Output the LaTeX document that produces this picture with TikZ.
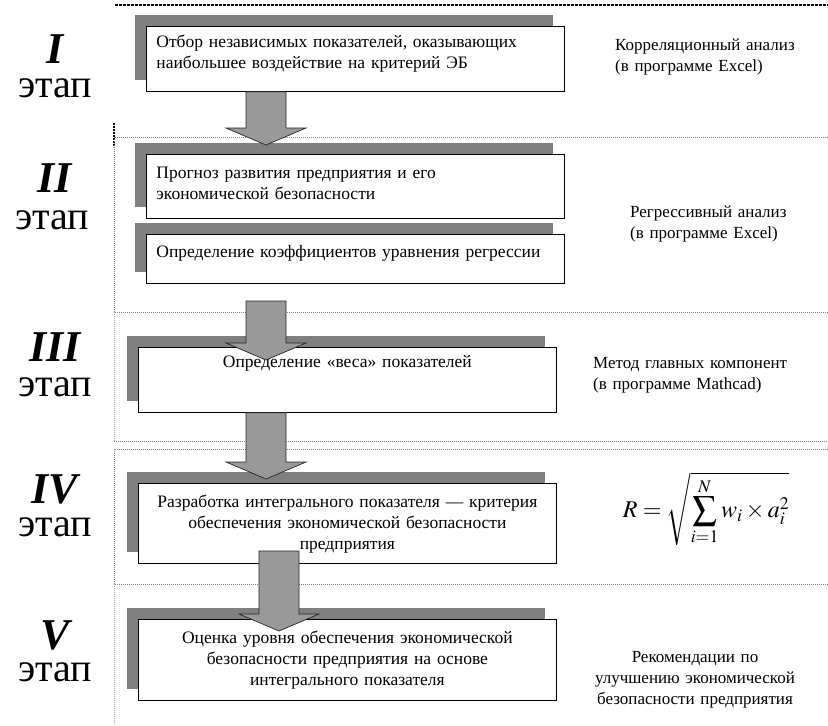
\documentclass[tikz,border=0pt]{standalone}
\usepackage{mathptmx}
\usepackage{fontspec}
\setmainfont{Liberation Serif}
\usetikzlibrary{calc,shadows}

\definecolor{shadowgray}{HTML}{808080}
\definecolor{arrowgray}{HTML}{999999}

% block arrow: shaft from #1 down to the tip #2
\newcommand{\blockarrow}[2]{%
  \filldraw[fill=arrowgray, draw=black!85, line width=0.7pt] let \p1=(#1), \p2=(#2) in
    (\x1-20pt,\y1) -- (\x1+20pt,\y1) -- (\x1+20pt,\y2+17pt) -- (\x1+40pt,\y2+17pt)
    -- (\x1,\y2) -- (\x1-40pt,\y2+17pt) -- (\x1-20pt,\y2+17pt) -- cycle;}

\tikzset{
  stagebox/.style={draw=black, fill=white, line width=0.8pt, anchor=north west,
    inner xsep=10pt, inner ysep=0pt, text width=398pt,
    font=\fontsize{17.5}{21}\selectfont,
    drop shadow={shadow xshift=-11pt, shadow yshift=11pt, opacity=1,
      fill=shadowgray, draw=none}},
  numeral/.style={inner sep=0pt, font=\fontsize{44}{44}\selectfont\bfseries\itshape},
  etap/.style={inner sep=0pt, font=\fontsize{40}{40}\selectfont},
  note/.style={anchor=north west, inner sep=0pt, align=left, text width=215pt,
    text height=14pt, font=\fontsize{17}{21}\selectfont},
  sepline/.style={gray, line width=0.6pt, dash pattern=on 1pt off 1pt},
}

\begin{document}
\begin{tikzpicture}[x=1pt, y=-1pt]
  \useasboundingbox (0,0) rectangle (828,726);

  % stage frames
  \draw[black, line width=1.2pt, dash pattern=on 3pt off 1pt] (115,5) -- (828,5);
  \draw[black, line width=1.2pt, dash pattern=on 2pt off 1pt] (114,123) -- (114,147);
  \draw[sepline] (828,137) -- (114,137) -- (114,312) -- (828,312);
  \draw[sepline, gray!60] (114,312) -- (114,441);
  \draw[sepline] (114,441) -- (828,441);
  \draw[sepline] (828,449) -- (114,449) -- (114,584) -- (828,584);
  \draw[sepline, gray!60] (114,584) -- (114,726);

  % stage numbers
  \node[numeral] (n1) at (55,49) {I};
  \node[etap] (e1) at (55,88) {этап};
  \node[numeral] (n2) at (55,178) {II};
  \node[etap] (e2) at (52,220) {этап};
  \node[numeral] (n3) at (55,347) {III};
  \node[etap] (e3) at (55,387) {этап};
  \node[numeral] (n4) at (55,489) {IV};
  \node[etap] (e4) at (55,527) {этап};
  \node[numeral] (n5) at (55,635) {V};
  \node[etap] (e5) at (55,672) {этап};

  % boxes
  \node[stagebox, text height=21pt, text depth=44pt, align=left] (b1) at (146,26)
    {Отбор независимых показателей, оказывающих\\наибольшее воздействие на критерий ЭБ};
  \node[stagebox, text height=24pt, text depth=40pt, align=left] (b2) at (146,154)
    {Прогноз развития предприятия и его\\экономической безопасности};
  \node[stagebox, text height=23pt, text depth=26pt, align=left] (b3) at (146,234)
    {Определение коэффициентов уравнения регрессии};
  \node[stagebox, text height=20pt, text depth=45pt, align=center] (b4) at (138,347)
    {Определение «веса» показателей};
  \node[stagebox, text height=24pt, text depth=56pt, align=center] (b5) at (138,483)
    {Разработка интегрального показателя — критерия\\обеспечения экономической безопасности\\предприятия};
  \node[stagebox, text height=24pt, text depth=57pt, align=center] (b6) at (138,619)
    {Оценка уровня обеспечения экономической\\безопасности предприятия на основе\\интегрального показателя};

  % methods
  \node[note] (m1) at (615,36) {Корреляционный анализ\\(в программе Excel)};
  \node[note] (m2) at (630,203) {Регрессивный анализ\\(в программе Excel)};
  \node[note] (m3) at (593,354) {Метод главных компонент\\(в программе Mathcad)};
  \node[font=\fontsize{24}{24}\selectfont] (m4) at (706,509)
    {$\displaystyle R=\sqrt{\sum_{i=1}^{N} w_i\times a_i^2}$};
  \node[note, anchor=north, align=center] (m5) at (695,648)
    {Рекомендации по\\улучшению экономической\\безопасности предприятия};

  % arrows
  \coordinate (t1) at (266,145);
  \coordinate (s2) at (266,301);
  \coordinate (t2) at (266,360);
  \coordinate (t3) at (266,479);
  \coordinate (s4) at (279,551);
  \coordinate (t4) at (279,631);
  \blockarrow{b1.south -| t1}{t1}
  \blockarrow{s2}{t2}
  \blockarrow{b4.south -| t3}{t3}
  \blockarrow{s4}{t4}
\end{tikzpicture}
\end{document}
